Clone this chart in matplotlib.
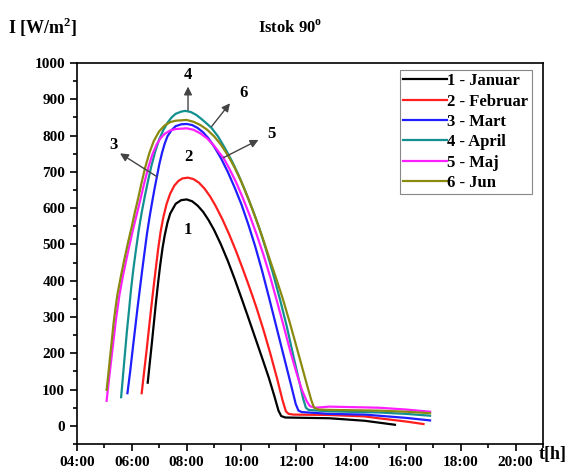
import matplotlib
matplotlib.use('Agg')
import matplotlib.pyplot as plt
from matplotlib.ticker import MultipleLocator, FixedLocator

plt.rcParams['font.family'] = ['Liberation Serif', 'DejaVu Serif']
plt.rcParams['font.weight'] = 'bold'
plt.rcParams['mathtext.fontset'] = 'custom'
plt.rcParams['mathtext.rm'] = 'Liberation Serif:bold'
plt.rcParams['mathtext.bf'] = 'Liberation Serif:bold'

# vrijeme [h] i intenzitet [W/m2] za svaki mjesec (ocitano sa slike)
jan_t = [6.58, 6.65, 6.72, 6.8, 6.88, 6.96, 7.03, 7.12, 7.2, 7.3, 7.4, 7.6, 7.8, 8.0, 8.2, 8.4, 8.6, 8.8, 9.0,
         9.25, 9.5, 9.75, 10.0, 10.25, 10.5, 10.75, 11.0, 11.2, 11.35, 11.45, 11.6, 13.2, 14.5, 15.0, 15.6]
jan_i = [119, 170, 220, 280, 340, 395, 440, 490, 525, 560, 585, 612, 622, 624, 619, 607, 590, 567, 540,
         500, 455, 405, 352, 298, 243, 188, 132, 82, 42, 27, 23, 21, 14, 9, 3]

feb_t = [6.36, 6.45, 6.54, 6.62, 6.70, 6.79, 6.88, 6.96, 7.05, 7.15, 7.27, 7.4, 7.55, 7.7, 7.85, 8.05, 8.25,
         8.45, 8.65, 8.85, 9.05, 9.3, 9.55, 9.8, 10.05, 10.3, 10.55, 10.8, 11.05, 11.3, 11.5, 11.62, 11.72,
         11.9, 13.2, 14.5, 15.0, 16.0, 16.64]
feb_i = [90, 150, 209, 265, 320, 380, 437, 487, 535, 575, 612, 640, 662, 675, 682, 684, 680,
         670, 654, 633, 607, 570, 528, 482, 432, 380, 325, 265, 200, 130, 70, 40, 33,
         31, 30, 26, 21, 12, 5]

mar_t = [5.84, 5.94, 6.03, 6.12, 6.2, 6.29, 6.38, 6.47, 6.55, 6.64, 6.73, 6.82, 6.91, 7.0, 7.1, 7.2, 7.3, 7.45,
         7.6, 7.8, 8.0, 8.2, 8.4, 8.6, 8.8, 9.0, 9.25, 9.5, 9.75, 10.0, 10.25, 10.5, 10.75, 11.0, 11.25, 11.5,
         11.7, 11.85, 11.98, 12.08, 12.2, 13.2, 14.5, 15.0, 16.0, 16.88]
mar_i = [90, 150, 210, 268, 320, 375, 430, 482, 528, 572, 612, 650, 685, 720, 752, 778, 798, 815,
         826, 831, 832, 829, 821, 809, 792, 770, 738, 700, 657, 610, 555, 495, 428, 355, 280, 205,
         145, 100, 60, 42, 38, 33, 31, 28, 22, 15]

apr_t = [5.61, 5.68, 5.75, 5.82, 5.9, 5.97, 6.05, 6.15, 6.25, 6.36, 6.48, 6.6, 6.7, 6.85, 7.0, 7.15, 7.3, 7.45,
         7.6, 7.8, 7.95, 8.15, 8.35, 8.55, 8.75, 8.92, 9.15, 9.4, 9.65, 9.9, 10.15, 10.4, 10.65, 10.9, 11.15,
         11.4, 11.65, 11.9, 12.1, 12.25, 12.35, 12.45, 12.6, 13.2, 15.0, 16.0, 16.88]
apr_i = [79, 140, 200, 260, 320, 375, 428, 485, 538, 588, 635, 678, 712, 755, 790, 815, 835, 850,
         860, 866, 868, 865, 857, 845, 832, 820, 797, 765, 730, 690, 645, 597, 545, 485, 420,
         350, 275, 190, 125, 75, 50, 44, 43, 40, 37, 33, 28]

maj_t = [5.08, 5.14, 5.2, 5.3, 5.42, 5.55, 5.68, 5.8, 5.92, 6.05, 6.18, 6.3, 6.45, 6.6, 6.75, 6.9, 7.05, 7.2,
         7.4, 7.6, 8.0, 8.25, 8.5, 8.75, 9.0, 9.2, 9.34, 9.55, 9.8, 10.05, 10.3, 10.55, 10.8, 11.05, 11.3,
         11.55, 11.8, 12.0, 12.2, 12.38, 12.5, 12.7, 13.2, 15.0, 16.0, 16.88]
maj_i = [69, 110, 150, 215, 292, 362, 415, 458, 500, 543, 583, 620, 668, 712, 748, 775, 793, 805,
         814, 818, 820, 816, 806, 792, 772, 752, 739, 710, 672, 628, 580, 528, 472, 410, 342,
         272, 200, 148, 100, 68, 54, 50, 53, 50, 45, 39]

jun_t = [5.08, 5.14, 5.2, 5.27, 5.33, 5.4, 5.47, 5.6, 5.73, 5.87, 6.0, 6.1, 6.21, 6.35, 6.48, 6.64, 6.8, 7.0,
         7.2, 7.4, 7.6, 8.0, 8.25, 8.5, 8.75, 9.0, 9.25, 9.5, 9.75, 10.0, 10.25, 10.5, 10.75, 11.0, 11.25,
         11.5, 11.75, 12.0, 12.2, 12.4, 12.55, 12.65, 12.8, 13.2, 15.0, 16.0, 16.88]
jun_i = [99, 140, 185, 235, 280, 322, 360, 412, 460, 508, 550, 585, 620, 668, 710, 752, 785, 812,
         828, 837, 841, 843, 838, 829, 816, 798, 775, 746, 712, 672, 626, 576, 523, 466, 410,
         352, 288, 220, 165, 110, 70, 50, 45, 44, 42, 39, 35]

labels = ['1 - Januar', '2 - Februar', '3 - Mart', '4 - April', '5 - Maj', '6 - Jun']
colors = ['#000000', '#ff1e1e', '#1e1eff', '#139090', '#ff1eff', '#8a8a10']
x_ticks = [4, 6, 8, 10, 12, 14, 16, 18, 20]
x_tick_labels = ['04:00', '06:00', '08:00', '10:00', '12:00', '14:00', '16:00', '18:00', '20:00']

fig = plt.figure(figsize=(5.85, 4.70), dpi=100)
ax = fig.add_axes([77 / 585, 1 - 444 / 470, 466 / 585, 381 / 470])

series = [(jan_t, jan_i), (feb_t, feb_i), (mar_t, mar_i), (apr_t, apr_i), (maj_t, maj_i), (jun_t, jun_i)]
for (t, i), lab, c in zip(series, labels, colors):
    ax.plot(t, i, color=c, lw=1.6, label=lab, solid_joinstyle='round')

ax.set_xlim(4, 21)
ax.set_ylim(-50, 1000)
ax.xaxis.set_major_locator(FixedLocator(x_ticks))
ax.set_xticklabels(x_tick_labels)
ax.xaxis.set_minor_locator(MultipleLocator(1))
ax.yaxis.set_major_locator(MultipleLocator(100))
ax.yaxis.set_minor_locator(MultipleLocator(50))
ax.tick_params(which='both', direction='out', top=False, right=False, labelsize=11, width=1.2)
ax.tick_params(which='major', length=5)
ax.tick_params(which='minor', length=3)
for s in ax.spines.values():
    s.set_linewidth(1.2)

leg = ax.legend(loc='upper right', bbox_to_anchor=(0.976, 0.982), borderaxespad=0, fontsize=12,
                handlelength=2.6, handletextpad=0.05, labelspacing=0.26, borderpad=0.2,
                fancybox=False, framealpha=1, edgecolor='#888888')
leg.get_frame().set_linewidth(0.8)

# brojevi krivih i strelice
arrow_kw = dict(arrowstyle='-|>', color='#444444', lw=1, mutation_scale=12, shrinkA=0, shrinkB=0)
ax.annotate('', xy=(8.05, 935), xytext=(8.05, 870), arrowprops=arrow_kw)
ax.annotate('', xy=(9.58, 889), xytext=(8.91, 825), arrowprops=arrow_kw)
ax.annotate('', xy=(10.62, 788), xytext=(9.34, 739), arrowprops=arrow_kw)
ax.annotate('', xy=(5.57, 751), xytext=(6.91, 687), arrowprops=arrow_kw)
for txt, x, y in [('1', 8.06, 540), ('2', 8.06, 742), ('3', 5.32, 774), ('4', 8.05, 967),
                  ('5', 11.11, 804), ('6', 10.07, 917)]:
    ax.text(x, y, txt, fontsize=12, ha='center', va='center')

fig.text(8 / 585, 1 - 27 / 470, 'I [W/m$^2$]', fontsize=13, ha='left', va='center')
fig.text(290 / 585, 1 - 28 / 470, 'Istok 90$^\\mathrm{o}$', fontsize=12, ha='center', va='center')
fig.text(553 / 585, 1 - 455 / 470, 't[h]', fontsize=13, ha='center', va='center')

fig.savefig('out.png', dpi=100)
